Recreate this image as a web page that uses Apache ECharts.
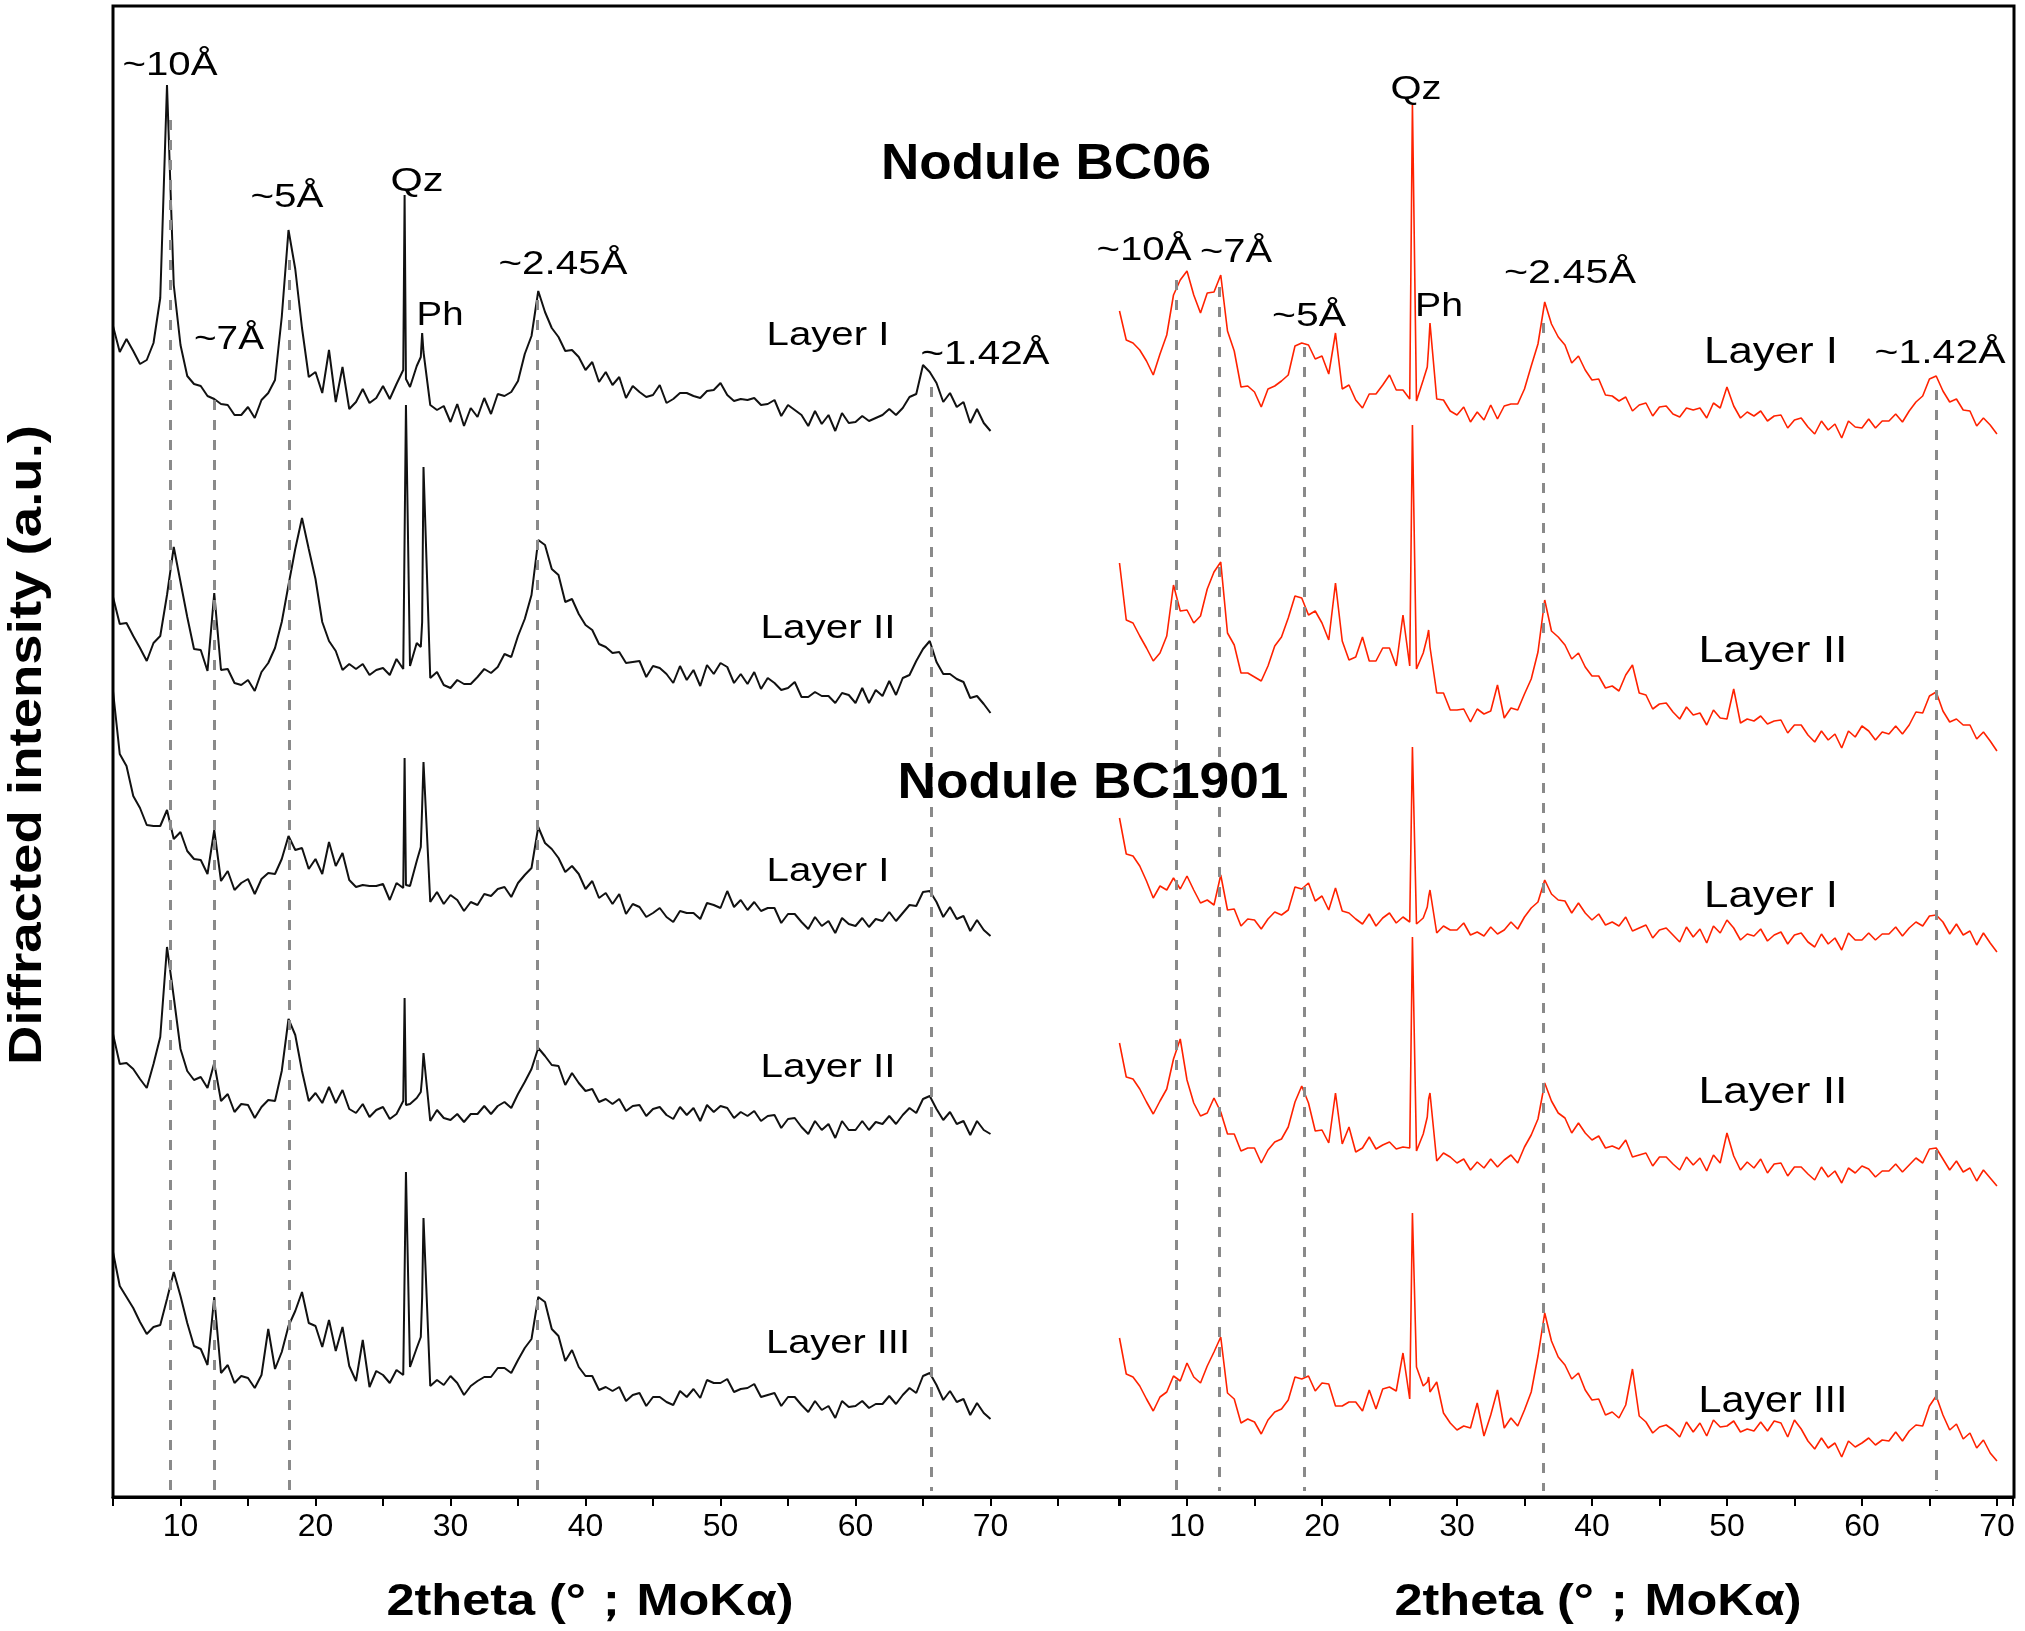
<!DOCTYPE html>
<html><head><meta charset="utf-8">
<script src="https://cdn.jsdelivr.net/npm/echarts/dist/echarts.min.js"></script>
<style>html,body{margin:0;padding:0;background:#fff}#c{width:2025px;height:1631px}</style>
</head><body><div id="c"></div>
<script>
// 2theta sampling positions (deg, MoKa)
const xs = [5,5.5,6,6.5,7,7.5,8,8.5,9,9.5,
10,10.5,11,11.5,12,12.5,13,13.5,14,14.5,
15,15.5,16,16.5,17,17.5,18,18.5,19,19.5,
20,20.5,21,21.5,22,22.5,23,23.5,24,24.5,
25,25.5,26,26.5,26.6,26.7,27,27.5,27.8,27.9,28,28.5,
29,29.5,30,30.5,31,31.5,32,32.5,33,33.5,
34,34.5,35,35.5,36,36.5,37,37.5,38,38.5,
39,39.5,40,40.5,41,41.5,42,42.5,43,43.5,
44,44.5,45,45.5,46,46.5,47,47.5,48,48.5,
49,49.5,50,50.5,51,51.5,52,52.5,53,53.5,
54,54.5,55,55.5,56,56.5,57,57.5,58,58.5,
59,59.5,60,60.5,61,61.5,62,62.5,63,63.5,
64,64.5,65,65.5,66,66.5,67,67.5,68,68.5,
69,69.5,70];

// Left panel (black) stacked intensities (a.u., offset included)
const blackBC06_I = [
1171,1145,1158,1146,1133,1137,1154,1199,1412,1212,
1152,1121,1113,1111,1101,1098,1093,1092,1082,1082,
1090,1079,1097,1104,1117,1180,1267,1228,1169,1120,
1125,1104,1147,1095,1130,1088,1095,1108,1094,1099,
1111,1098,1113,1127,1302,1118,1110,1131,1140,1164,1145,1092,
1087,1091,1075,1093,1071,1089,1080,1099,1083,1103,
1101,1105,1116,1143,1161,1206,1185,1169,1160,1146,
1147,1140,1127,1135,1115,1125,1112,1120,1099,1111,
1105,1100,1102,1112,1094,1098,1104,1104,1101,1099,
1106,1107,1114,1102,1096,1098,1097,1099,1092,1093,
1097,1081,1092,1087,1082,1071,1086,1073,1082,1066,
1084,1074,1075,1081,1076,1079,1082,1088,1082,1089,
1100,1103,1132,1125,1114,1095,1104,1090,1095,1074,
1088,1074,1066];
const blackBC06_II = [
900,873,874,861,849,836,854,861,902,950,
915,880,848,847,826,904,827,828,814,812,
817,806,825,834,849,875,912,948,979,948,
918,875,856,846,827,833,828,833,822,827,
829,822,838,828,830,1092,831,854,850,875,1030,819,
825,812,809,817,813,813,820,828,824,830,
843,840,861,878,902,957,952,928,922,895,
898,883,872,867,853,850,844,845,834,835,
836,820,831,829,823,814,831,817,827,811,
832,823,834,830,814,823,813,825,808,819,
814,807,809,815,800,800,805,801,801,794,
804,802,794,809,794,807,801,816,802,819,
822,836,848,856,835,823,823,818,815,799,
801,793,784];
const blackBC1901_I = [
806,743,731,701,689,672,671,671,687,658,
665,646,638,637,623,667,616,626,607,614,
618,603,618,624,623,638,661,647,649,628,
638,623,655,631,644,617,610,612,611,611,
613,597,614,609,739,612,611,636,650,690,735,595,
605,593,602,597,586,595,592,603,601,608,
610,600,614,622,629,670,654,648,639,625,
631,623,608,616,599,604,593,603,583,593,
590,580,584,589,580,575,586,584,584,578,
594,592,589,606,590,597,587,595,586,589,
589,574,583,583,575,568,580,571,576,564,
579,573,571,579,570,578,576,585,576,584,
592,591,605,606,595,580,590,578,581,566,
577,567,561];
const blackBC1901_II = [
463,433,434,428,418,409,433,460,550,500,
448,426,417,420,409,434,396,403,385,393,
392,379,390,397,396,426,478,462,426,396,
404,394,410,394,407,388,384,393,380,387,
390,378,383,396,499,392,393,399,405,420,444,376,
387,379,377,383,375,383,383,391,383,391,
395,389,403,415,428,449,441,432,431,412,
424,414,406,408,395,398,393,398,386,391,
392,381,388,390,382,378,390,382,389,376,
392,385,391,389,379,385,381,386,376,381,
382,369,378,379,370,363,376,367,373,359,
376,367,367,376,367,375,373,381,373,382,
389,384,398,401,388,377,385,373,376,362,
376,367,363];
const blackBC1901_III = [
245,211,200,189,175,163,170,172,198,225,
201,174,151,148,132,200,124,132,114,121,
119,109,122,168,128,145,171,186,205,174,
171,150,177,146,170,131,116,157,110,126,
122,114,127,122,120,325,130,149,160,200,279,111,
117,112,121,114,102,111,116,120,120,129,
129,124,137,149,158,200,195,168,161,136,
147,130,121,121,107,110,106,110,96,102,
104,91,100,100,95,92,106,100,108,99,
117,114,114,118,105,108,109,113,100,102,
104,91,100,100,92,85,96,87,91,79,
96,90,91,96,89,93,93,101,93,102,
109,104,121,124,112,97,106,95,98,82,
94,84,78];

// Right panel (red)
const redBC06_I = [
1186,1157,1154,1147,1136,1122,1143,1162,1202,1217,
1226,1202,1184,1204,1205,1222,1166,1146,1110,1111,
1105,1090,1108,1111,1116,1122,1151,1154,1152,1138,
1141,1123,1164,1108,1112,1097,1089,1103,1103,1112,
1122,1107,1107,1098,1100,1394,1096,1117,1130,1150,1174,1098,
1097,1086,1082,1090,1075,1085,1077,1092,1078,1091,
1093,1093,1108,1131,1153,1195,1173,1160,1152,1134,
1141,1127,1117,1118,1102,1101,1096,1100,1086,1092,
1094,1081,1090,1091,1083,1080,1089,1087,1089,1079,
1094,1089,1110,1091,1079,1085,1081,1086,1076,1081,
1082,1069,1077,1079,1070,1063,1076,1067,1073,1059,
1076,1070,1069,1078,1069,1076,1076,1083,1075,1086,
1095,1101,1118,1121,1106,1095,1098,1087,1086,1071,
1079,1072,1063];
const redBC06_II = [
934,877,874,861,849,836,844,861,912,886,
887,874,881,908,925,935,864,852,824,824,
820,816,831,851,860,879,901,899,882,886,
874,857,914,856,837,840,860,836,836,849,
849,831,882,831,830,1072,828,844,860,867,850,804,
804,787,787,788,775,788,783,786,812,779,
789,787,803,818,845,897,866,860,852,838,
844,830,821,821,809,811,806,822,832,804,
802,788,793,794,785,778,790,782,784,772,
787,779,778,808,774,778,776,781,773,776,
777,764,772,772,762,755,766,757,763,749,
766,760,771,766,757,765,763,771,763,772,
785,784,801,805,786,775,778,772,772,758,
765,756,746];
const redBC1901_I = [
679,643,641,631,616,599,611,607,619,608,
621,607,594,597,592,622,587,588,571,578,
577,568,578,585,582,587,610,608,614,596,
601,587,609,586,584,578,573,583,571,579,
584,574,580,575,575,750,573,579,590,600,607,564,
571,567,567,574,562,565,561,570,563,567,
575,568,580,589,595,617,603,597,596,584,
594,584,577,583,572,575,571,580,566,569,
572,559,567,569,562,555,570,560,568,554,
571,564,577,569,557,563,561,568,556,562,
565,553,562,564,555,550,563,553,559,547,
564,557,557,564,557,563,563,570,561,569,
575,571,581,582,575,563,573,562,566,552,
564,554,545];
const redBC1901_II = [
454,420,418,408,395,383,396,408,438,458,
417,394,381,384,399,385,363,363,346,349,
349,334,347,355,358,370,395,411,394,366,
367,354,404,353,370,345,349,360,348,352,
355,348,350,349,350,560,346,363,380,398,404,336,
344,340,334,338,327,335,329,338,330,337,
342,334,350,362,378,414,396,384,379,364,
374,364,357,361,349,351,348,357,340,342,
344,331,340,340,333,327,340,332,339,326,
342,334,364,341,327,335,329,338,324,333,
334,321,330,330,323,317,330,320,326,314,
329,324,331,328,320,326,326,333,325,332,
339,334,348,349,338,327,336,325,329,316,
327,319,311];
const redBC1901_III = [
159,123,120,111,98,86,100,105,121,116,
134,120,114,131,145,160,104,98,74,78,
75,63,77,85,88,97,120,118,121,106,
114,113,91,91,95,95,86,107,88,108,
110,106,144,98,100,284,130,111,115,120,105,115,
84,74,67,71,69,94,61,82,107,69,
79,71,87,105,141,184,156,140,132,118,
124,107,97,98,82,85,79,92,128,81,
75,64,70,72,67,60,75,65,74,61,
77,70,71,76,65,68,66,75,66,76,
74,60,77,68,56,48,59,49,54,40,
56,50,54,59,52,57,56,65,56,66,
72,71,91,101,82,67,73,58,64,49,
57,44,36];

// reference d-spacing guide lines (2theta, top of dashed line)
const leftRefX = [9.25, 12.47, 18.07, 36.4, 65.6];
const leftRefTop = [1377, 1097, 1237, 1197, 1110];
const rightRefX = [9.22, 12.4, 18.72, 36.38, 65.5];
const rightRefTop = [1217, 1210, 1150, 1174, 1107];

const tickLabels = [10, 20, 30, 40, 50, 60, 70];

const leftTraces = [blackBC06_I, blackBC06_II, blackBC1901_I, blackBC1901_II, blackBC1901_III];
const rightTraces = [redBC06_I, redBC06_II, redBC1901_I, redBC1901_II, redBC1901_III];
leftTraces.concat(rightTraces).forEach((a, k) => {
  if (a.length !== xs.length) throw new Error('trace ' + k + ' length ' + a.length + ' != ' + xs.length);
});

const FONT = '"Liberation Sans", Arial, Helvetica, sans-serif';
const chart = echarts.init(document.getElementById('c'));

function makeSeries(traces, idx, color, width, refX, refTop) {
  return traces.map((arr, k) => {
    const s = {
      type: 'line', xAxisIndex: idx, yAxisIndex: idx,
      data: xs.map((x, i) => [x, arr[i]]),
      showSymbol: false, symbol: 'none', silent: true,
      lineStyle: { color: color, width: width }, z: 3
    };
    if (k === 0) {
      s.markLine = {
        silent: true, symbol: ['none', 'none'], animation: false,
        label: { show: false },
        lineStyle: { type: [10, 10], color: '#8a8a8a', width: 3 },
        data: refX.map((x, i) => [{ coord: [x, refTop[i]] }, { coord: [x, 6] }])
      };
    }
    return s;
  });
}

function axis(idx, max) {
  return {
    type: 'value', gridIndex: idx, min: 5, max: max, interval: 5,
    axisLine: { show: true, onZero: false, lineStyle: { color: '#000', width: 3 } },
    axisTick: { show: true, inside: false, length: 9, lineStyle: { color: '#000', width: 2 } },
    axisLabel: {
      show: true, margin: 14, fontSize: 32, fontFamily: FONT, color: '#000',
      formatter: v => (tickLabels.indexOf(Math.round(v * 1000) / 1000) >= 0 ? String(v) : '')
    },
    splitLine: { show: false }
  };
}

// texts: [text, cx, cy, targetWidth, fontSize, bold, rotation]
const texts = [
  ['~10Å', 170, 66, 95, 33], ['~7Å', 229, 340, 70, 33], ['~5Å', 287, 198, 73, 33],
  ['Qz', 417, 182, 53, 33], ['Ph', 440, 316, 47, 33], ['~2.45Å', 563, 265, 129, 33],
  ['Layer I', 828, 336, 123, 33], ['~1.42Å', 985, 355, 129, 33],
  ['Layer II', 828, 629, 135, 33], ['Layer I', 828, 872, 123, 33],
  ['Layer II', 828, 1068, 135, 33], ['Layer III', 838, 1344, 144, 33],
  ['Qz', 1416, 90, 51, 33], ['~10Å', 1144, 251, 95, 33], ['~7Å', 1236, 253, 72, 33],
  ['~5Å', 1309, 317, 74, 33], ['Ph', 1439, 307, 48, 33], ['~2.45Å', 1570, 274, 132, 33],
  ['Layer I', 1771, 353, 134, 36], ['~1.42Å', 1940, 354, 131, 33],
  ['Layer II', 1773, 652, 149, 36], ['Layer I', 1771, 897, 134, 36],
  ['Layer II', 1773, 1093, 149, 36], ['Layer III', 1773, 1402, 149, 36],
  ['Nodule BC06', 1046, 165, 330, 50, true], ['Nodule BC1901', 1093, 784, 391, 50, true],
  ['2theta (°；MoKα)', 590, 1603, 407, 44, true], ['2theta (°；MoKα)', 1598, 1603, 407, 44, true],
  ['Diffracted intensity (a.u.)', 28, 745, 640, 46, true, Math.PI / 2]
];
const mctx = document.createElement('canvas').getContext('2d');
const graphics = [{
  type: 'rect', shape: { x: 113, y: 6, width: 1901, height: 1491 },
  style: { fill: 'none', stroke: '#000', lineWidth: 3 }, z: 50, silent: true
}];
texts.forEach(t => {
  const font = (t[5] ? 'bold ' : '') + t[4] + 'px ' + FONT;
  mctx.font = font;
  const mw = mctx.measureText(t[0]).width || 1;
  graphics.push({
    type: 'text', x: t[1], y: t[2], rotation: t[6] || 0, scaleX: t[3] / mw, z: 60, silent: true,
    style: { text: t[0], font: font, fill: '#000', align: 'center', verticalAlign: 'middle',
             textAlign: 'center', textVerticalAlign: 'middle' }
  });
});

chart.setOption({
  animation: false,
  backgroundColor: '#fff',
  grid: [
    { left: 113, top: 6, width: 1005.75, height: 1491 },
    { left: 1119.5, top: 6, width: 893.5, height: 1491 }
  ],
  xAxis: [axis(0, 79.5), axis(1, 71.19)],
  yAxis: [0, 1].map(i => ({ type: 'value', gridIndex: i, min: 0, max: 1491, show: false })),
  series: makeSeries(leftTraces, 0, '#111111', 2, leftRefX, leftRefTop)
    .concat(makeSeries(rightTraces, 1, '#ff2200', 1.6, rightRefX, rightRefTop)),
  graphic: graphics
});
</script>
</body></html>
